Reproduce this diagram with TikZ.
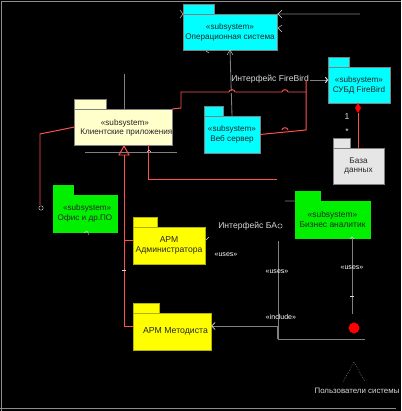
\documentclass[tikz,border=0pt]{standalone}
\usepackage{fontspec}
\setmainfont{Liberation Sans}
\usetikzlibrary{arrows.meta}
\definecolor{pkgcyan}{RGB}{0,255,255}
\definecolor{pkgyellow}{RGB}{255,255,0}
\definecolor{pkggreen}{RGB}{0,240,0}
\definecolor{pkgcream}{RGB}{255,255,204}
\definecolor{pkggray}{RGB}{230,230,230}
\definecolor{relred}{RGB}{255,80,80}
\tikzset{
  pkgbody/.style={draw=black!50, line width=0.5pt, inner sep=0pt, outer sep=0pt, align=center, font=\fontsize{5.8}{7}\selectfont, text=black!85},
  pkgtab/.style={draw=black!50, line width=0.5pt, inner sep=0pt, outer sep=0pt, anchor=south west, minimum height=0.25cm},
  frameline/.style={draw=black!45, line width=0.8pt},
  depline/.style={draw=black!50, line width=0.6pt},
  relline/.style={draw=relred, line width=0.7pt},
  halo/.style={draw=white!85!black, line width=0.3pt},
  iflabel/.style={text=white!85!black, inner sep=0pt, font=\fontsize{6.1}{7}\selectfont},
  stereolabel/.style={text=white, inner sep=0pt, font=\fontsize{5}{5.5}\selectfont},
}

\begin{document}
\begin{tikzpicture}[x=0.025cm, y=-0.025cm]
\useasboundingbox (0,0) rectangle (401,411);
\fill[black] (0,0) rectangle (401,411);
% frame
\draw[frameline] (1.5,411) -- (1.5,1.2) -- (401,1.2);
\draw[frameline] (0,408.5) -- (396,408.5);
% packages
\node[pkgbody, fill=pkgcyan, minimum width=2.35cm, minimum height=0.9cm] (opsys) at (230,32) {«subsystem»\\Операционная система};
\node[pkgtab, fill=pkgcyan, minimum width=0.775cm] (opsystab) at (opsys.north west) {};
\node[pkgbody, fill=pkgcyan, minimum width=1.55cm, minimum height=0.9cm] (firebird) at (359,85) {«subsystem»\\СУБД FireBird};
\node[pkgtab, fill=pkgcyan, minimum width=0.525cm] (firebirdtab) at (firebird.north west) {};
\node[pkgbody, fill=pkgcyan, minimum width=1.4cm, minimum height=0.925cm] (websrv) at (232,134.5) {«subsystem»\\Веб сервер};
\node[pkgtab, fill=pkgcyan, minimum width=0.475cm] (websrvtab) at (websrv.north west) {};
\node[pkgbody, fill=pkggray, minimum width=1.275cm, minimum height=0.9cm] (dbase) at (358.5,166) {База\\данных};
\node[pkgtab, fill=pkggray, minimum width=0.425cm] (dbasetab) at (dbase.north west) {};
\node[pkgbody, fill=pkgcream, minimum width=2.425cm, minimum height=0.9cm, text depth=0pt] (client) at (123.5,127) {\hspace{2pt}«subsystem»\\\hspace{4pt}Клиентские приложения};
\node[pkgtab, fill=pkgcream, minimum width=0.8cm] (clienttab) at (client.north west) {};
\node[pkgbody, fill=pkggreen, draw=pkggreen, minimum width=1.6cm, minimum height=0.925cm] (office) at (85,213.5) {\hspace{3pt}«subsystem»\\Офис и др.ПО};
\node[pkgtab, fill=pkggreen, draw=pkggreen, minimum width=0.5cm] (officetab) at (office.north west) {};
\node[pkgbody, fill=pkgyellow, draw=pkgyellow!70!black, minimum width=1.8cm, minimum height=0.925cm, font=\fontsize{6.1}{7.2}\selectfont] (armadmin) at (169,245.5) {АРМ\\Администратора};
\node[pkgtab, fill=pkgyellow, draw=pkgyellow!70!black, minimum width=0.6cm] (armadmintab) at (armadmin.north west) {};
\node[pkgbody, fill=pkgyellow, draw=pkgyellow!70!black, minimum width=1.95cm, minimum height=0.925cm, font=\fontsize{6.2}{7.2}\selectfont] (armmethod) at (172,331.5) {\hspace{5pt}АРМ Методиста};
\node[pkgtab, fill=pkgyellow, draw=pkgyellow!70!black, minimum width=0.65cm] (armmethodtab) at (armmethod.north west) {};
\node[pkgbody, fill=pkggreen, draw=pkggreen, minimum width=1.875cm, minimum height=0.925cm, font=\fontsize{6}{7.2}\selectfont] (analytics) at (332.5,219.5) {«subsystem»\\Бизнес аналитик};
\node[pkgtab, fill=pkggreen, draw=pkggreen, minimum width=0.625cm] (analyticstab) at (analytics.north west) {};
% free points
\coordinate (ifbird) at (310,80);
\coordinate (ifbao) at (278,241);
\coordinate (ifboxcorner) at (278,339);
\coordinate (cornerclient) at (181,108);
\coordinate (cornerfb) at (181,92);
\coordinate (jointfb) at (306,92);
\coordinate (topfb) at (306,80);
\coordinate (jointweb) at (306,130);
\coordinate (officering) at (40,205);
\coordinate (clientdown) at (148,179);
\coordinate (clientend) at (277,179);
\coordinate (inherittip) at (124,146);
\coordinate (inheritbase) at (124,155);
\coordinate (inheritadmin) at (124,240);
\coordinate (inheritmethod) at (124,326);
% labels
\node[iflabel, anchor=west] (iftextfb) at (231,79.5) {Интерфейс FireBird};
\node[iflabel, anchor=west] (iftextbao) at (218,226) {Интерфейс БА};
\node[iflabel] (card1) at (347,117) {1};
\node[iflabel] (cardn) at (347,132) {*};
\node[iflabel, font=\fontsize{5.6}{6.5}\selectfont] (usertext) at (357,390.5) {Пользователи системы};
% gray connectors
\draw[depline] (websrv.north) -- (opsys.south);
\draw[depline, -{Straight Barb[white, length=1.5pt, width=4pt]}] (ifbird) -- (firebird.west |- ifbird);
\draw[depline] (opsys.north east) -- (360,14);
\draw[depline] (ifbao) -- (ifboxcorner) -- (365,339);
\draw[depline, line width=0.9pt] (278,326) -- (ifboxcorner);
\draw[depline, -{Straight Barb[white!85!black, length=2.5pt, width=5pt]}] (278,326) -- (armmethod.east |- 0,326);
\draw[depline] (352,314) -- (352,238);
\draw[depline] (285,201) -- (analytics.north west);
\draw[depline] (124,74) -- (client.north -| 124,0);
\draw[depline] (85,152) -- (177,152);
% red connectors
\draw[relline] (client.north east) -- (cornerclient) -- (cornerfb) -- (jointfb);
\draw[relline] (websrv.east) -- (jointweb) -- (topfb);
\foreach \jx/\jy in {232/92,285/92,285/130} {
  \draw[black, line width=0.9pt] (\jx-3,\jy) -- (\jx+3,\jy);
  \draw[relline] (\jx-3,\jy) .. controls (\jx-3,\jy-3) and (\jx+3,\jy-3) .. (\jx+3,\jy);
}
\draw[relline] (client.south -| clientdown) -- (clientdown) -- (clientend);
\draw[relline] (client.west) -- (40,134) -- (officering);
\draw[relline] (inheritbase) -- (inheritmethod) -- (armmethod.west |- inheritmethod);
\draw[relline] (inheritadmin) -- (armadmin.west |- inheritadmin);
\draw[relline] (inherittip) -- (119,155) -- (129,155) -- cycle;
\draw[relline] (dbase.north -| 358,0) -- (358,113);
\fill[red] (358,103) -- (361,108) -- (358,113) -- (355,108) -- cycle;
% stereotype marks
\node[stereolabel] (useadmin) at (226,255) {«uses»};
\node[stereolabel] (usebao) at (277,272) {«uses»};
\node[stereolabel] (useanalytics) at (352,268) {«uses»};
\node[stereolabel] (usemethod) at (281,317) {«include»};
% small marks
\draw[halo] (180,10) -- (183,14) -- (180,18);
\draw[halo] (282,10) -- (278,14) -- (282,18);
\draw[halo] (282,25) -- (278,28) -- (282,32);
\draw[halo] (227,55) -- (230,50) -- (233,55);
\draw[halo] (206,51) -- (209,53);
\draw[halo] (84,233) -- (87,231) -- (89,235);
\draw[halo] (147,152) -- (149,150) -- (151,152);
\draw[halo] (206,240) -- (209,237);
\draw[halo] (350,239) -- (352,237) -- (354,239);
\draw[halo] (350,296) -- (354,296);
\draw[halo] (122,270) -- (126,270);
\draw[halo] (41,208) circle (2.2);
\draw[halo] (280,226) circle (2.2);
% actor
\fill[red] (354,328) circle (5.5);
\draw[halo, densely dotted] (343,382) -- (354,362) -- (365,382);
\end{tikzpicture}
\end{document}
